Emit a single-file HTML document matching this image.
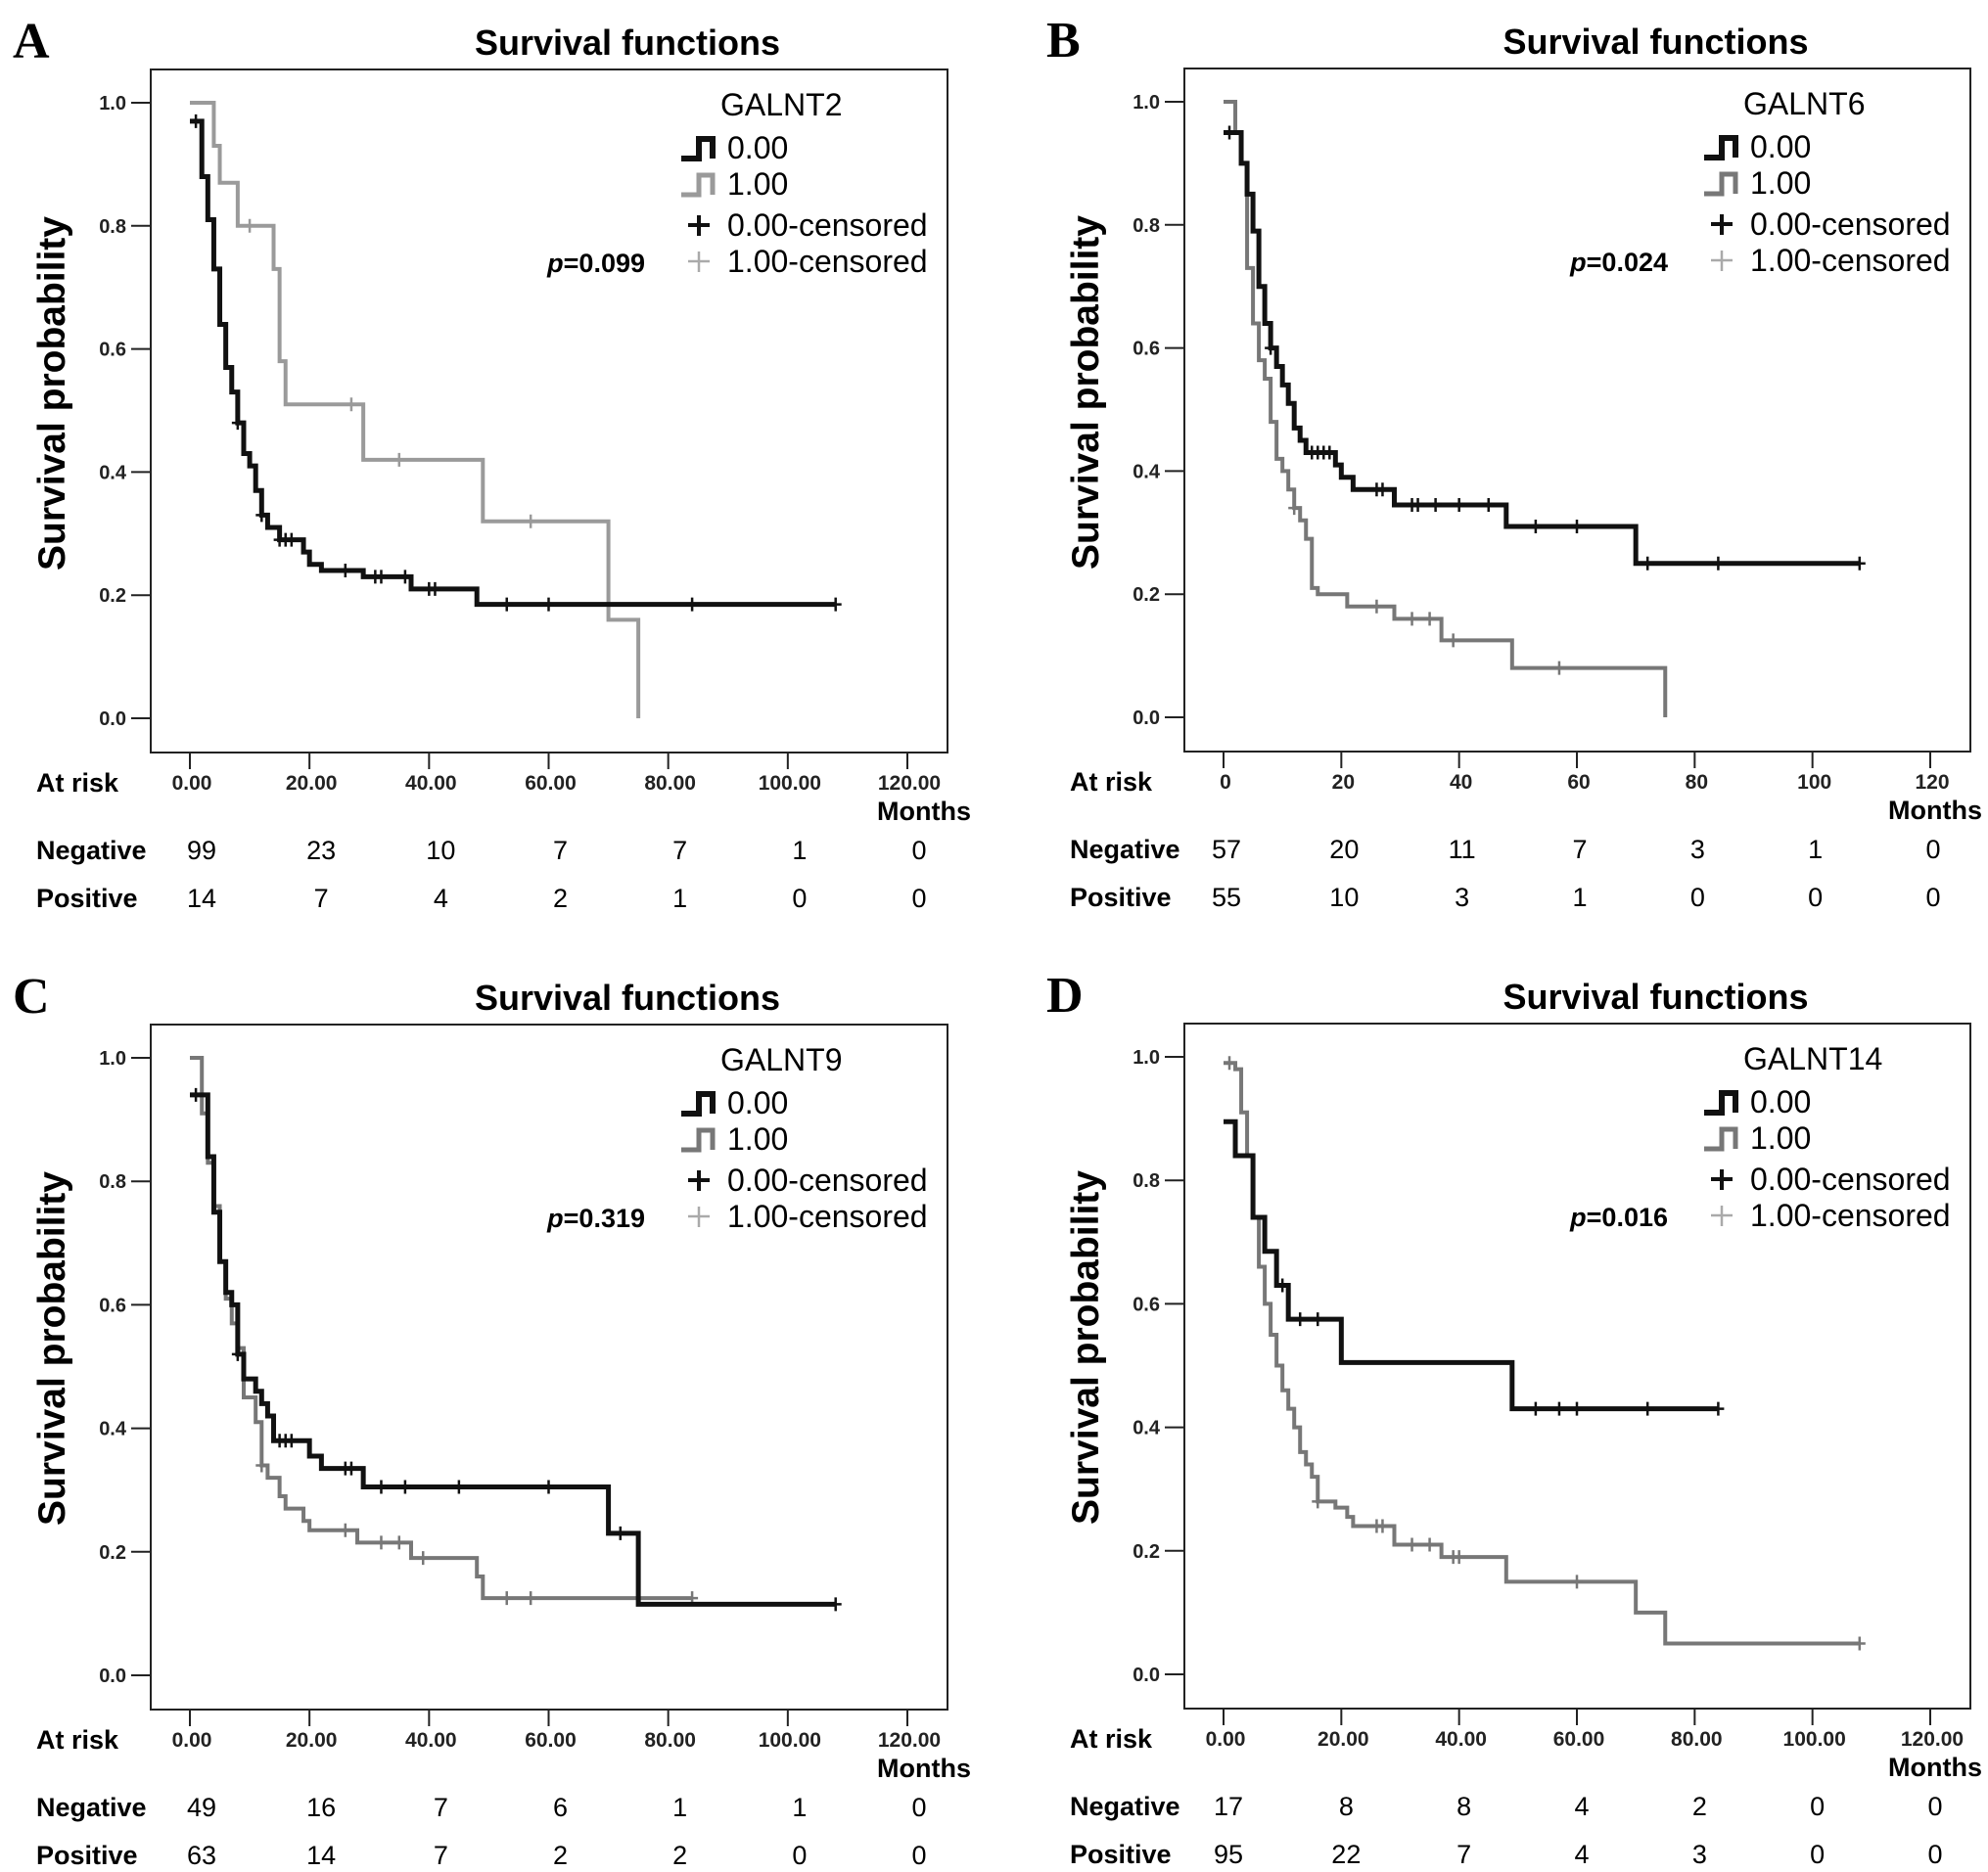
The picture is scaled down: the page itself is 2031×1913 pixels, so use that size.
<!DOCTYPE html>
<html><head><meta charset="utf-8"><title>Survival functions</title>
<style>html,body{margin:0;padding:0;background:#fff}svg{display:block}</style></head>
<body>
<svg id="fig" width="2031" height="1913" viewBox="0 0 2031 1913" xmlns="http://www.w3.org/2000/svg" font-family="Liberation Sans, Arial, sans-serif"></svg>
<script>
// ---- data ----
const xTicks=[0,20,40,60,80,100,120];
const yTicks=[0,0.2,0.4,0.6,0.8,1.0];
const tickLabelsDec=["0.00","20.00","40.00","60.00","80.00","100.00","120.00"];
const tickLabelsInt=["0","20","40","60","80","100","120"];
const yTickLabels=["0.0","0.2","0.4","0.6","0.8","1.0"];

const A_negT=[0,2,3,4,5,6,7,8,9,10,11,12,13,15,19,20,22,29,37,48];
const A_negS=[0.97,0.88,0.81,0.73,0.64,0.57,0.53,0.48,0.43,0.41,0.37,0.33,0.31,0.29,0.27,0.25,0.24,0.23,0.21,0.185];
const A_negCens=[1,8,12,15,16,17,26,31,32,36,40,41,53,60,84,108];
const A_posT=[0,4,5,8,14,15,16,29,49,70,75];
const A_posS=[1.0,0.93,0.87,0.80,0.73,0.58,0.51,0.42,0.32,0.16,0.0];
const A_posCens=[10,27,35,57];
const A_riskNeg=[99,23,10,7,7,1,0];
const A_riskPos=[14,7,4,2,1,0,0];

const B_negT=[0,3,4,5,6,7,8,9,10,11,12,13,14,19,20,22,29,48,70];
const B_negS=[0.95,0.90,0.85,0.79,0.70,0.64,0.60,0.57,0.54,0.51,0.47,0.45,0.43,0.41,0.39,0.37,0.345,0.31,0.25];
const B_negCens=[1,8,15,16,17,18,26,27,32,33,36,40,45,53,60,72,84,108];
const B_posT=[0,2,3,4,5,6,7,8,9,10,11,12,13,14,15,16,21,29,37,49,75];
const B_posS=[1.0,0.95,0.90,0.73,0.64,0.58,0.55,0.48,0.42,0.40,0.37,0.34,0.32,0.29,0.21,0.20,0.18,0.16,0.125,0.08,0.0];
const B_posCens=[12,26,32,35,39,57];
const B_riskNeg=[57,20,11,7,3,1,0];
const B_riskPos=[55,10,3,1,0,0,0];

const C_negT=[0,3,4,5,6,7,8,9,11,12,13,14,20,22,29,70,75];
const C_negS=[0.94,0.84,0.75,0.67,0.62,0.60,0.52,0.48,0.46,0.44,0.42,0.38,0.355,0.335,0.305,0.23,0.115];
const C_negCens=[1,8,15,16,17,26,27,32,36,45,60,72,108];
const C_posT=[0,2,3,4,5,6,7,8,9,11,12,13,15,16,19,20,28,37,48,49];
const C_posS=[1.0,0.91,0.83,0.76,0.67,0.61,0.57,0.53,0.45,0.41,0.34,0.32,0.29,0.27,0.25,0.235,0.215,0.19,0.16,0.125];
const C_posCens=[12,26,32,35,39,53,57,84];
const C_riskNeg=[49,16,7,6,1,1,0];
const C_riskPos=[63,14,7,2,2,0,0];

const D_negT=[0,2,5,7,9,11,20,49];
const D_negS=[0.895,0.84,0.74,0.685,0.63,0.575,0.505,0.43];
const D_negCens=[10,13,16,53,57,60,72,84];
const D_posT=[0,2,3,4,5,6,7,8,9,10,11,12,13,14,15,16,19,21,22,29,37,48,70,75];
const D_posS=[0.99,0.98,0.91,0.84,0.74,0.66,0.60,0.55,0.50,0.46,0.43,0.40,0.36,0.34,0.32,0.28,0.27,0.255,0.24,0.21,0.19,0.15,0.10,0.05];
const D_posCens=[1,16,26,27,32,35,39,40,60,108];
const D_riskNeg=[17,8,8,4,2,0,0];
const D_riskPos=[95,22,7,4,3,0,0];

// ---- layout ----
const panels=[
 {id:"a",letter:"A",gene:"GALNT2",p:"0.099",x0:194,x120:927,y1:105,y0:734,ticks:tickLabelsDec,posCol:"#9a9a9a",numOff:12,moOff:24,
  negT:A_negT,negS:A_negS,negC:A_negCens,negEnd:108,posT:A_posT,posS:A_posS,posC:A_posCens,posEnd:75,rn:A_riskNeg,rp:A_riskPos},
 {id:"b",letter:"B",gene:"GALNT6",p:"0.024",x0:1250,x120:1972,y1:104,y0:733,ticks:tickLabelsInt,posCol:"#777",numOff:3,moOff:12,
  negT:B_negT,negS:B_negS,negC:B_negCens,negEnd:108,posT:B_posT,posS:B_posS,posC:B_posCens,posEnd:75,rn:B_riskNeg,rp:B_riskPos},
 {id:"c",letter:"C",gene:"GALNT9",p:"0.319",x0:194,x120:927,y1:1081,y0:1712,ticks:tickLabelsDec,posCol:"#777",numOff:12,moOff:24,
  negT:C_negT,negS:C_negS,negC:C_negCens,negEnd:108,posT:C_posT,posS:C_posS,posC:C_posCens,posEnd:84,rn:C_riskNeg,rp:C_riskPos},
 {id:"d",letter:"D",gene:"GALNT14",p:"0.016",x0:1250,x120:1972,y1:1080,y0:1711,ticks:tickLabelsDec,posCol:"#777",numOff:5,moOff:12,
  negT:D_negT,negS:D_negS,negC:D_negCens,negEnd:84,posT:D_posT,posS:D_posS,posC:D_posCens,posEnd:108,rn:D_riskNeg,rp:D_riskPos}
];
const NS="http://www.w3.org/2000/svg";
const svg=document.getElementById('fig');
function mk(tag,attrs,parent,txt){const e=document.createElementNS(NS,tag);for(const k in attrs)e.setAttribute(k,attrs[k]);if(txt!==undefined)e.textContent=txt;parent.appendChild(e);return e;}
function survAt(T,S,t){let v=S[0];for(let i=0;i<T.length;i++){if(T[i]<=t)v=S[i];}return v;}

panels.forEach(P=>{
  const g=mk('g',{},svg);
  
  
  const X=t=>P.x0+(P.x120-P.x0)*t/120;
  const Y=s=>P.y0-(P.y0-P.y1)*s;
  const L=P.x0-40,R=P.x120+41,T=P.y1-34,B=P.y0+35;
  const letter=mk('text',{x:L-141,y:P.y1-46,'font-family':'Liberation Serif, serif','font-weight':'bold','font-size':52},g,P.letter);
  
  
  const title=mk('text',{x:(L+R)/2+80,y:P.y1-49,'text-anchor':'middle','font-weight':'bold','font-size':36},g,'Survival functions');
  
  
  const frame=mk('rect',{x:L,y:T,width:R-L,height:B-T,fill:'none',stroke:'#222','stroke-width':2},g);
  
  
  const yt=mk('text',{x:0,y:0,transform:`translate(${L-88},${P.y1+297}) rotate(-90)`,'text-anchor':'middle','font-weight':'bold','font-size':39},g,'Survival probability');
  
  
  yTicks.forEach((v,i)=>{
    const tk=mk('line',{x1:L-20,x2:L,y1:Y(v),y2:Y(v),stroke:'#222','stroke-width':2},g);
    
    
    const tl=mk('text',{x:L-25,y:Y(v)+7,'text-anchor':'end','font-weight':'bold','font-size':20,fill:'#222'},g,yTickLabels[i]);
    
    
  });
  xTicks.forEach((v,i)=>{
    const tk=mk('line',{x1:X(v),x2:X(v),y1:B,y2:B+17,stroke:'#222','stroke-width':2},g);
    
    
    const tl=mk('text',{x:X(v)+2,y:B+38,'text-anchor':'middle','font-weight':'bold','font-size':21,fill:'#222'},g,P.ticks[i]);
    
    
    const n1=mk('text',{x:X(v)+P.numOff,y:B+109,'text-anchor':'middle','font-size':27},g,String(P.rn[i]));
    
    
    const n2=mk('text',{x:X(v)+P.numOff,y:B+158,'text-anchor':'middle','font-size':27},g,String(P.rp[i]));
    
    
  });
  const ar=mk('text',{x:L-117,y:B+40,'font-weight':'bold','font-size':27},g,'At risk');
  
  
  const mo=mk('text',{x:R+P.moOff,y:B+69,'text-anchor':'end','font-weight':'bold','font-size':27},g,'Months');
  
  
  const ng=mk('text',{x:L-117,y:B+109,'font-weight':'bold','font-size':27},g,'Negative');
  
  
  const ps=mk('text',{x:L-117,y:B+158,'font-weight':'bold','font-size':27},g,'Positive');
  
  

  function curve(Tarr,Sarr,end,cens,col,w,name){
    let d=`M${X(Tarr[0])},${Y(Sarr[0])}`;
    for(let i=1;i<Tarr.length;i++){d+=`H${X(Tarr[i])}V${Y(Sarr[i])}`;}
    d+=`H${X(end)}`;
    const p=mk('path',{d:d,fill:'none',stroke:col,'stroke-width':w,'stroke-linejoin':'miter'},g);
    
    
    cens.forEach(t=>{
      const s=survAt(Tarr,Sarr,t),cx=X(t),cy=Y(s);
      const c=mk('path',{d:`M${cx},${cy-7}V${cy+7}M${cx-6},${cy}H${cx+6}`,stroke:col,'stroke-width':2.5,fill:'none'},g);
      
      
    });
  }
  curve(P.posT,P.posS,P.posEnd,P.posC,P.posCol,4,'positive');
  curve(P.negT,P.negS,P.negEnd,P.negC,'#111',5,'negative');

  // legend
  const lg=mk('g',{},g);
  
  
  const lx=R-225;
  mk('text',{x:R-232,y:P.y1+13,'font-size':32},lg,P.gene);
  const sx=R-272,sy=P.y1+57;
  const s1=mk('path',{d:`M${sx},${sy}H${sx+18}V${sy-20}H${sx+32}V${sy}`,fill:'none',stroke:'#111','stroke-width':6},lg);
  
  
  mk('text',{x:lx,y:P.y1+57,'font-size':32},lg,'0.00');
  const s2=mk('path',{d:`M${sx},${sy+37}H${sx+18}V${sy+17}H${sx+32}V${sy+37}`,fill:'none',stroke:P.posCol,'stroke-width':5},lg);
  
  
  mk('text',{x:lx,y:P.y1+94,'font-size':32},lg,'1.00');
  const px=R-254;
  mk('path',{d:`M${px},${P.y1+115}V${P.y1+136}M${px-11},${P.y1+125}H${px+11}`,stroke:'#111','stroke-width':4},lg);
  mk('text',{x:lx,y:P.y1+136,'font-size':32},lg,'0.00-censored');
  mk('path',{d:`M${px},${P.y1+152}V${P.y1+173}M${px-11},${P.y1+162}H${px+11}`,stroke:'#aaa','stroke-width':2.5},lg);
  mk('text',{x:lx,y:P.y1+173,'font-size':32},lg,'1.00-censored');
  const pt=mk('text',{x:R-309,y:P.y1+173,'text-anchor':'end','font-weight':'bold','font-size':27},g);
  
  
  mk('tspan',{'font-style':'italic'},pt,'p');
  mk('tspan',{},pt,'='+P.p);
});
</script>
</body></html>
